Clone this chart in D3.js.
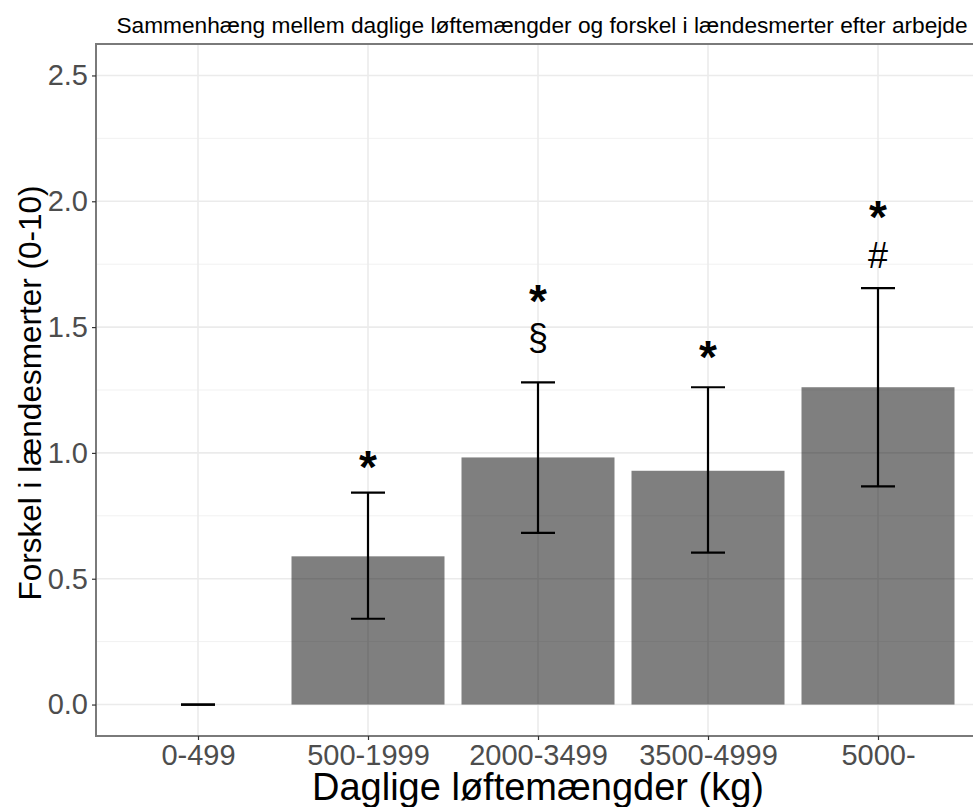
<!DOCTYPE html>
<html>
<head>
<meta charset="utf-8">
<script src="https://cdn.jsdelivr.net/npm/d3@7"></script>
<style>
  html, body { margin: 0; padding: 0; background: #ffffff; }
  svg { display: block; font-family: "Liberation Sans", Arial, sans-serif; }
</style>
</head>
<body>
<svg id="chart" width="973" height="807"></svg>
<script>
// Lifting load groups (kg per day) and mean change in low back pain
const categories = ["0-499", "500-1999", "2000-3499", "3500-4999", "5000-"];
const meanDiff   = [0.0, 0.589, 0.982, 0.929, 1.261];
const ciLower    = [0.0, 0.341, 0.682, 0.604, 0.867];
const ciUpper    = [0.0, 0.842, 1.280, 1.261, 1.655];

// Significance markers above the error bars
const markerCategories = ["500-1999", "2000-3499", "2000-3499", "3500-4999", "5000-", "5000-"];
const markerSymbols    = ["*", "*", "§", "*", "*", "#"];
const markerValues     = [0.968, 1.628, 1.462, 1.402, 1.959, 1.787];

const yTicks = [0.0, 0.5, 1.0, 1.5, 2.0, 2.5];
const yMinorTicks = [0.25, 0.75, 1.25, 1.75, 2.25];

const titleText  = "Sammenhæng mellem daglige løftemængder og forskel i lændesmerter efter arbejde";
const xTitleText = "Daglige løftemængder (kg)";
const yTitleText = "Forskel i lændesmerter (0-10)";

const svg = d3.select("#chart");
const panel = { left: 96, right: 980, top: 44, bottom: 736 };

const x = d3.scalePoint()
  .domain(categories)
  .range([panel.left, panel.right])
  .padding(0.6);
const step = x.step();
const barWidth = step * 0.9;
const capWidth = step * 0.2;

const yLo = 0, yHi = 2.5, pad = (yHi - yLo) * 0.05;
const y = d3.scaleLinear()
  .domain([yLo - pad, yHi + pad])
  .range([panel.bottom, panel.top]);

// Panel background
svg.append("rect")
  .attr("x", panel.left).attr("y", panel.top)
  .attr("width", panel.right - panel.left).attr("height", panel.bottom - panel.top)
  .attr("fill", "#ffffff");

const grid = svg.append("g");
grid.selectAll("line.minor").data(yMinorTicks).join("line")
  .attr("class", "minor")
  .attr("x1", panel.left).attr("x2", panel.right)
  .attr("y1", d => y(d)).attr("y2", d => y(d))
  .attr("stroke", "#f1f1f1").attr("stroke-width", 1);
grid.selectAll("line.major").data(yTicks).join("line")
  .attr("class", "major")
  .attr("x1", panel.left).attr("x2", panel.right)
  .attr("y1", d => y(d)).attr("y2", d => y(d))
  .attr("stroke", "#ebebeb").attr("stroke-width", 1.6);
grid.selectAll("line.vert").data(categories).join("line")
  .attr("class", "vert")
  .attr("x1", d => x(d)).attr("x2", d => x(d))
  .attr("y1", panel.top).attr("y2", panel.bottom)
  .attr("stroke", "#ebebeb").attr("stroke-width", 1.6);

// Bars
svg.append("g").selectAll("rect").data(categories).join("rect")
  .attr("x", d => x(d) - barWidth / 2)
  .attr("width", barWidth)
  .attr("y", (d, i) => y(Math.max(0, meanDiff[i])))
  .attr("height", (d, i) => Math.abs(y(0) - y(meanDiff[i])))
  .attr("fill", "#000000")
  .attr("fill-opacity", 0.5);

// Error bars
const eb = svg.append("g").attr("stroke", "#000000").attr("stroke-width", 2.2).attr("fill", "none");
categories.forEach((c, i) => {
  const cx = x(c);
  eb.append("line").attr("x1", cx).attr("x2", cx).attr("y1", y(ciLower[i])).attr("y2", y(ciUpper[i]));
  eb.append("line").attr("x1", cx - capWidth / 2).attr("x2", cx + capWidth / 2).attr("y1", y(ciUpper[i])).attr("y2", y(ciUpper[i]));
  eb.append("line").attr("x1", cx - capWidth / 2).attr("x2", cx + capWidth / 2).attr("y1", y(ciLower[i])).attr("y2", y(ciLower[i]));
});

// Significance markers, one stacked label per category.
// Each glyph's baseline sits below its value so the visible glyph is centred on it.
const glyphStyle = {
  "*": { size: 46, weight: "bold", lift: 0.47 },
  "§": { size: 36, weight: "normal", lift: 0.38 },
  "#": { size: 36, weight: "normal", lift: 0.36 }
};
const markers = markerSymbols.map((s, i) => ({ cat: markerCategories[i], sym: s, val: markerValues[i] }));
const markerGroups = Array.from(d3.group(markers, d => d.cat), ([cat, items]) => ({ cat, items }));
svg.append("g").selectAll("text").data(markerGroups).join("text")
  .attr("text-anchor", "middle")
  .attr("fill", "#000000")
  .each(function (g) {
    d3.select(this).selectAll("tspan").data(g.items).join("tspan")
      .attr("x", x(g.cat))
      .attr("y", d => y(d.val) + glyphStyle[d.sym].lift * glyphStyle[d.sym].size)
      .attr("font-size", d => glyphStyle[d.sym].size)
      .attr("font-weight", d => glyphStyle[d.sym].weight)
      .text(d => d.sym);
  });

// Panel border
svg.append("rect")
  .attr("x", panel.left).attr("y", panel.top)
  .attr("width", panel.right - panel.left).attr("height", panel.bottom - panel.top)
  .attr("fill", "none").attr("stroke", "#7a7a7a").attr("stroke-width", 2);

// Axes
const yAxis = d3.axisLeft(y).tickValues(yTicks).tickFormat(d3.format(".1f")).tickSize(4).tickPadding(4);
const gy = svg.append("g").attr("transform", `translate(${panel.left},0)`).call(yAxis);
gy.select(".domain").remove();
gy.selectAll(".tick line").attr("stroke", "#333333").attr("stroke-width", 1.2);
gy.selectAll(".tick text").attr("fill", "#4d4d4d").attr("font-size", 29)
  .attr("font-family", "Liberation Sans, Arial, sans-serif");

const xAxis = d3.axisBottom(x).tickSize(4).tickPadding(4);
const gx = svg.append("g").attr("transform", `translate(0,${panel.bottom})`).call(xAxis);
gx.select(".domain").remove();
gx.selectAll(".tick line").attr("stroke", "#333333").attr("stroke-width", 1.2);
gx.selectAll(".tick text").attr("fill", "#4d4d4d").attr("font-size", 29)
  .attr("font-family", "Liberation Sans, Arial, sans-serif");

// Titles
const midX = (panel.left + panel.right) / 2;
svg.append("text")
  .attr("x", midX + 4).attr("y", 33)
  .attr("text-anchor", "middle")
  .attr("font-size", 22.7)
  .attr("fill", "#000000")
  .text(titleText);

svg.append("text")
  .attr("x", midX).attr("y", 800)
  .attr("text-anchor", "middle")
  .attr("font-size", 38)
  .attr("fill", "#000000")
  .text(xTitleText);

svg.append("text")
  .attr("transform", `translate(41,${(panel.top + panel.bottom) / 2 + 3}) rotate(-90)`)
  .attr("text-anchor", "middle")
  .attr("font-size", 31.5)
  .attr("fill", "#000000")
  .text(yTitleText);
</script>
</body>
</html>
